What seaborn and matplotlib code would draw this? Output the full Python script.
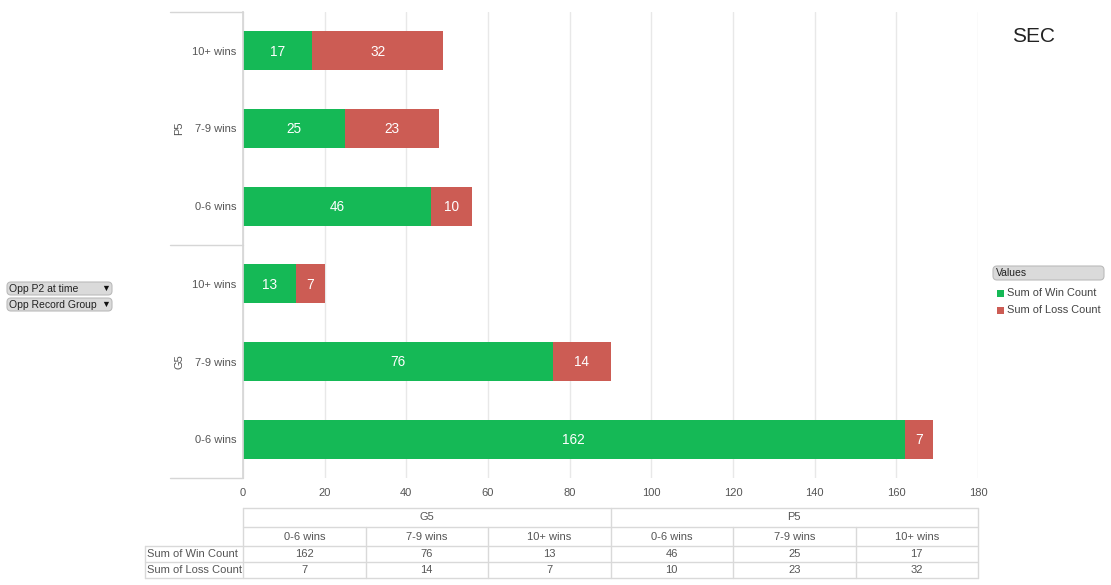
import matplotlib
matplotlib.use("Agg")
import matplotlib.pyplot as plt
import seaborn as sns
import pandas as pd
from matplotlib.patches import FancyBboxPatch, Rectangle

# data
groups = ["P5", "P5", "P5", "G5", "G5", "G5"]
records = ["10+ wins", "7-9 wins", "0-6 wins", "10+ wins", "7-9 wins", "0-6 wins"]
win_count = [17, 25, 46, 13, 76, 162]
loss_count = [32, 23, 10, 7, 14, 7]

table_groups = ["G5", "P5"]
table_records = ["0-6 wins", "7-9 wins", "10+ wins"]
table_win = [162, 76, 13, 46, 25, 17]
table_loss = [7, 14, 7, 10, 23, 32]

GREEN = "#15B956"
RED = "#CC5C54"
GRID = "#E8E8E8"
TXT = "#555555"

sns.set_theme(style="white")
plt.rcParams["font.family"] = ["Liberation Sans", "DejaVu Sans"]

df = pd.DataFrame({
    "key": [g + "|" + r for g, r in zip(groups, records)],
    "win": win_count,
    "loss": loss_count,
})
df["total"] = df["win"] + df["loss"]

W, H = 1111, 585
fig = plt.figure(figsize=(W / 100, H / 100), dpi=100)

def px_axes(x0, y0, x1, y1):
    return fig.add_axes([x0 / W, 1 - y1 / H, (x1 - x0) / W, (y1 - y0) / H])

ax = px_axes(243, 12, 978, 478)
sns.barplot(data=df, y="key", x="total", color=RED, orient="h", width=0.5,
            saturation=1, ax=ax, order=list(df["key"]), linewidth=0, edgecolor="none")
sns.barplot(data=df, y="key", x="win", color=GREEN, orient="h", width=0.5,
            saturation=1, ax=ax, order=list(df["key"]), linewidth=0, edgecolor="none")

for i, (w, l) in enumerate(zip(win_count, loss_count)):
    ax.text(w / 2, i + 0.01, str(w), ha="center", va="center", color="white", fontsize=9.8)
    ax.text(w + l / 2, i + 0.01, str(l), ha="center", va="center", color="white", fontsize=9.8)

ax.set_xlim(0, 180)
ax.set_ylim(5.5, -0.5)
ax.set_xticks(range(0, 181, 20))
ax.set_yticklabels(records)
ax.set_xlabel("")
ax.set_ylabel("")
ax.xaxis.grid(True, color=GRID, linewidth=1)
ax.set_axisbelow(True)
for s in ["top", "right", "bottom"]:
    ax.spines[s].set_visible(False)
ax.spines["left"].set_color("#D6D6D6")
ax.tick_params(axis="both", length=0, labelsize=8, colors=TXT)
ax.tick_params(axis="y", pad=5)
ax.tick_params(axis="x", pad=7)

# group separators and labels
ytr = ax.get_yaxis_transform()
for yb in [-0.5, 2.5, 5.5]:
    ax.plot([-0.099, 0], [yb, yb], transform=ytr, color="#D6D6D6", lw=1, clip_on=False)
for g, yc in [("P5", 1), ("G5", 4)]:
    ax.text(-0.087, yc, g, transform=ytr, rotation=90, ha="center", va="center",
            fontsize=8, color=TXT)

# overlay in pixel coordinates
ov = fig.add_axes([0, 0, 1, 1], facecolor="none")
ov.set_xlim(0, W)
ov.set_ylim(H, 0)
ov.axis("off")

# title
ov.text(1034, 37, "SEC", ha="center", va="center", fontsize=15, color="#222222")

# pivot buttons
for y0, label in [(281, "Opp P2 at time"), (297, "Opp Record Group")]:
    ov.add_patch(FancyBboxPatch((7, y0 + 1), 105, 13, boxstyle="round,pad=0,rounding_size=4",
                                facecolor="#DADADA", edgecolor="#BBBBBB", lw=0.8))
    ov.text(9, y0 + 8, label, ha="left", va="center", fontsize=7.5, color="#222222")
    ov.text(106, y0 + 7.5, "\u25BC", ha="center", va="center", fontsize=6.5, color="#111111")

# legend
ov.add_patch(FancyBboxPatch((993, 266), 111, 14, boxstyle="round,pad=0,rounding_size=4",
                            facecolor="#DADADA", edgecolor="#BBBBBB", lw=0.8))
ov.text(996, 273, "Values", ha="left", va="center", fontsize=7.5, color="#222222")
for yc, col, label in [(293, GREEN, "Sum of Win Count"), (310, RED, "Sum of Loss Count")]:
    ov.add_patch(Rectangle((997, yc - 3.5), 7, 7, facecolor=col, edgecolor="none"))
    ov.text(1007, yc, label, ha="left", va="center", fontsize=7.9, color="#444444")

# data table
LINE = "#D9D9D9"
x0, x1 = 243, 978
cw = (x1 - x0) / 6
FS = 8
ov.plot([x0, x1], [508, 508], color=LINE, lw=1)
ov.plot([x0, x1], [527, 527], color=LINE, lw=1)
for yy in [546, 562, 578]:
    ov.plot([145, x1], [yy, yy], color=LINE, lw=1)
ov.plot([145, 145], [546, 578], color=LINE, lw=1)
for k in range(7):
    xx = x0 + k * cw
    top = 508 if k in (0, 3, 6) else 527
    ov.plot([xx, xx], [top, 578], color=LINE, lw=1)
for gi, g in enumerate(table_groups):
    ov.text(x0 + (gi * 3 + 1.5) * cw, 517.5, g, ha="center", va="center", fontsize=FS, color=TXT)
for k in range(6):
    xc = x0 + (k + 0.5) * cw
    ov.text(xc, 537, table_records[k % 3], ha="center", va="center", fontsize=FS, color=TXT)
    ov.text(xc, 554, str(table_win[k]), ha="center", va="center", fontsize=FS, color=TXT)
    ov.text(xc, 570, str(table_loss[k]), ha="center", va="center", fontsize=FS, color=TXT)
ov.text(147, 554, "Sum of Win Count", ha="left", va="center", fontsize=FS, color=TXT)
ov.text(147, 570, "Sum of Loss Count", ha="left", va="center", fontsize=FS, color=TXT)

fig.savefig("out.png", dpi=100)
